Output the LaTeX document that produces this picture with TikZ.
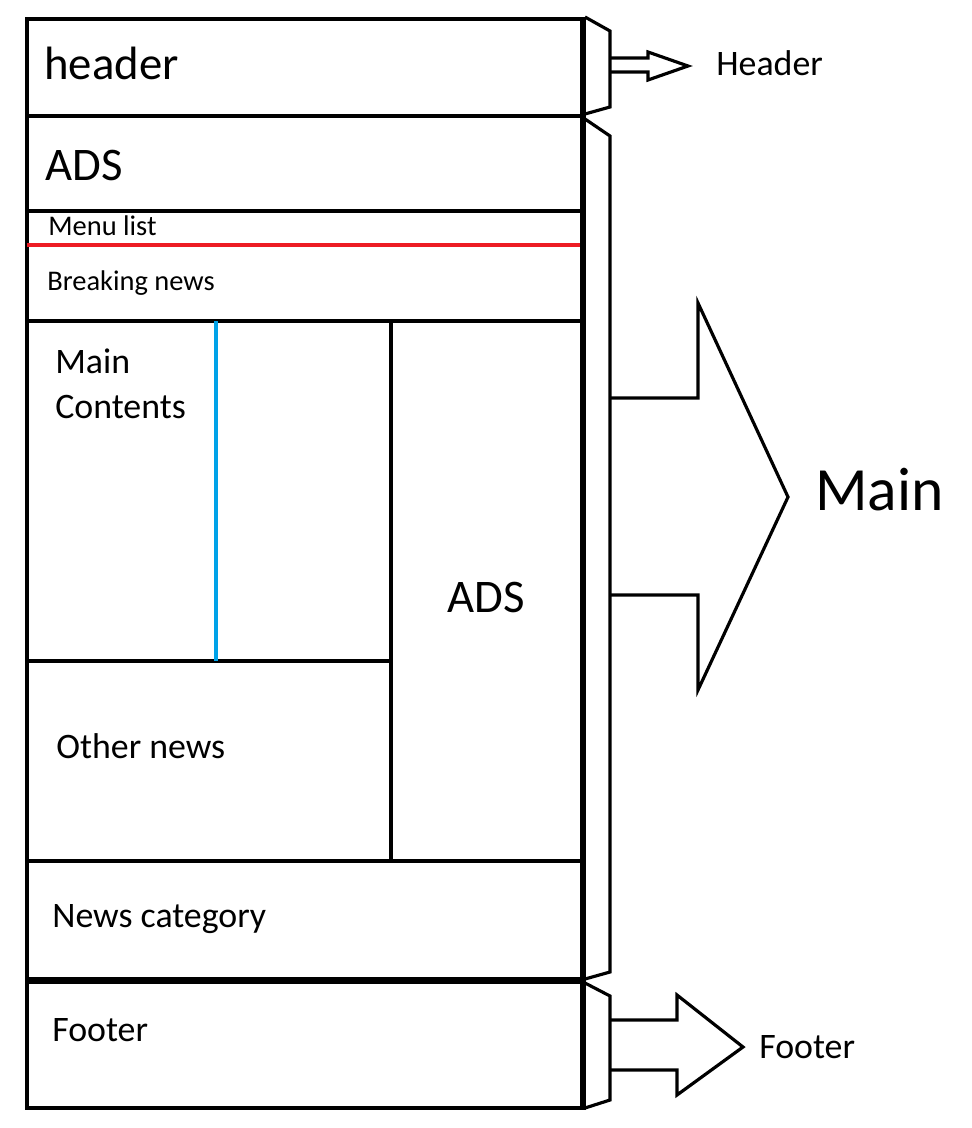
\documentclass[tikz,border=0pt]{standalone}
\usepackage{fontspec}
\setmainfont{Carlito}
\definecolor{paintred}{RGB}{237,28,36}
\definecolor{paintblue}{RGB}{0,162,232}
\tikzset{
	wall/.style={line width=2.3pt},
	brace/.style={line width=1.8pt, line join=miter},
	lbl/.style={anchor=west, inner sep=0pt},
	big/.style={font=\fontsize{26.6}{32}\selectfont},
	mid/.style={font=\fontsize{20.4}{25.5}\selectfont},
	small/.style={font=\fontsize{16.2}{19}\selectfont},
}
\begin{document}
\begin{tikzpicture}[x=0.02cm, y=-0.02cm]
	\useasboundingbox (0,0) rectangle (972,1128);
	\draw [wall](27,19) rectangle (582,116);
	\draw [wall](27,116) rectangle (582,979);
	\draw [wall](27,982) rectangle (582,1108);
\draw [wall](27,211)--(582,211);  \draw [wall](27,321)--(582,321);
\draw [wall](391,321)--(391,861);  \draw [wall](27,661)--(391,661);
\draw [wall](27,861)--(582,861);
\draw [line width=2.3pt, paintred](27,245)--(582,245);
\draw [line width=2.3pt, paintblue](216,321)--(216,661);
\draw [line width=3.4pt](583,17)--(583,1110);

\draw [brace](585,17)--(610,31)--(610,107)--(585,114);
\draw [brace](585,119)--(610,136)--(610,972)--(585,979);
\draw [brace](585,983)--(610,996)--(610,1100)--(585,1108);

\draw [brace](610,58)--(648,58)--(648,52)--(688,66)--(648,80)--(648,72)--(610,72);
\draw [brace](610,398)--(698,398)--(698,303)--(788,497)--(698,690)--(698,595)--(610,595);
\draw [brace](610,1020)--(677,1020)--(677,995)--(743,1047)--(677,1095)--(677,1070)--(610,1070);

\node [lbl, big] (header) at (44,63) {header};
\node [lbl, big] (ads) at (45,165) {ADS};
\node [lbl, small] (menu) at (48,226) {Menu list};
\node [lbl, small] (breaking) at (47,283) {Breaking news};
\node [lbl, mid, align=left] (contents) at (55,384) {Main\\Contents};
\node [big] (sideads) at (486,597) {ADS};
\node [lbl, mid] (other) at (56,746) {Other news};
\node [lbl, mid] (category) at (52,919) {News category};
\node [lbl, mid] (footer) at (52,1030) {Footer};
\node [lbl, mid] (headerlbl) at (716,63) {Header};
\node [lbl, font=\fontsize{35}{42}\selectfont] (mainlbl) at (815,490) {Main};
\node [lbl, mid] (footerlbl) at (759,1047) {Footer};
	\end{tikzpicture}
\end{document}
